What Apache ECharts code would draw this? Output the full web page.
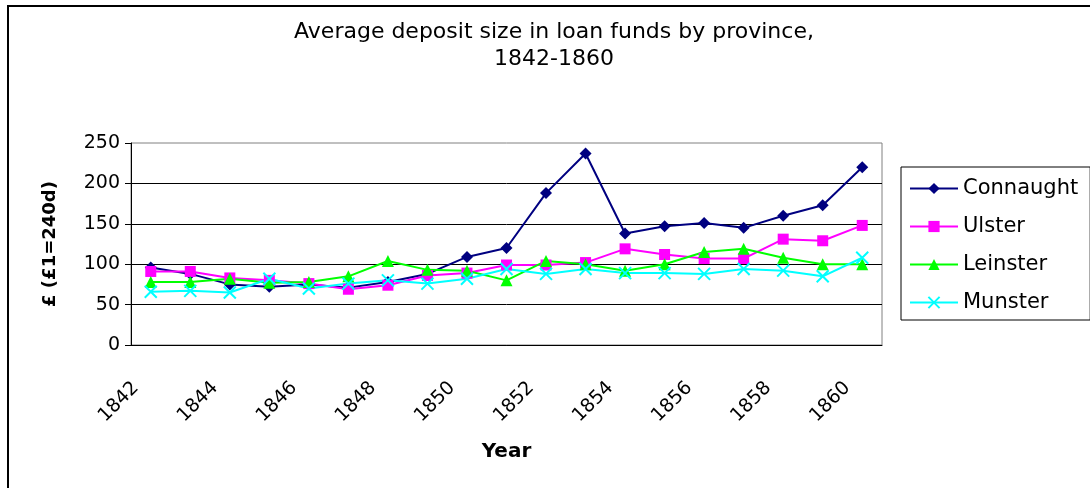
<!DOCTYPE html>
<html>
<head>
<meta charset="utf-8">
<title>Average deposit size in loan funds by province</title>
<script src="https://cdn.jsdelivr.net/npm/echarts@6/dist/echarts.min.js"></script>
<style>
    html, body { margin: 0; padding: 0; background: #fff; }
    #chart-container { width: 1090px; height: 488px; }
</style>
</head>
<body>
<div id="chart-container"></div>
<script>
// categories (years)
var years = ['1842', '1843', '1844', '1845', '1846', '1847', '1848', '1849', '1850', '1851',
             '1852', '1853', '1854', '1855', '1856', '1857', '1858', '1859', '1860'];

// average deposit (£) per province
var connaught = [96, 88, 75, 72, 75, 71, 78, 88, 109, 120, 188, 237, 138, 147, 151, 145, 160, 173, 220];
var ulster    = [91, 91, 83, 80, 76, 69, 74, 86, 89, 99, 99, 102, 119, 112, 107, 107, 131, 129, 148];
var leinster  = [78, 78, 82, 77, 78, 85, 104, 93, 92, 80, 104, 100, 92, 100, 115, 119, 108, 100, 100];
var munster   = [66, 67, 65, 82, 70, 76, 80, 76, 82, 94, 88, 94, 89, 89, 88, 94, 92, 85, 108];

var seriesNames = ['Connaught', 'Ulster', 'Leinster', 'Munster'];
var yTicks = [0, 50, 100, 150, 200, 250];

var FONT = 'DejaVu Sans';

function makeSeries(name, values, color, symbol, size) {
    return {
        name: name,
        type: 'line',
        data: values,
        symbol: symbol,
        symbolSize: size,
        showAllSymbol: true,
        animation: false,
        lineStyle: { color: color, width: 2 },
        itemStyle: { color: color }
    };
}

var myChart = echarts.init(document.getElementById('chart-container'));

var series = [
    makeSeries(seriesNames[0], connaught, '#000080', 'diamond', 12),
    makeSeries(seriesNames[1], ulster, '#ff00ff', 'rect', 11),
    makeSeries(seriesNames[2], leinster, '#00ff00', 'triangle', 12),
    makeSeries(seriesNames[3], munster, '#00ffff', 'path://M0,0L10,10M10,0L0,10', 12)
];
// the cross marker is only strokes
series[3].itemStyle = { color: '#00ffff', borderColor: '#00ffff', borderWidth: 2 };

var option = {
    backgroundColor: '#fff',
    animation: false,
    title: {
        text: 'Average deposit size in loan funds by province,\n1842-1860',
        left: 554,
        top: 19,
        padding: 0,
        textAlign: 'center',
        textStyle: {
            fontFamily: FONT,
            fontSize: 22,
            fontWeight: 'normal',
            color: '#000',
            lineHeight: 27
        }
    },
    graphic: [{
        type: 'rect',
        silent: true,
        shape: { x: 8, y: 6, width: 1200, height: 600 },
        style: { fill: null, stroke: '#000', lineWidth: 2 }
    }],
    legend: {
        data: seriesNames,
        orient: 'vertical',
        left: 901,
        top: 167,
        padding: [11, 12, 7, 8],
        itemWidth: 48,
        itemHeight: 14,
        itemGap: 17,
        borderColor: '#000',
        borderWidth: 1,
        textStyle: { fontFamily: FONT, fontSize: 21, color: '#000', lineHeight: 20 }
    },
    grid: {
        left: 131,
        right: 208,
        top: 143,
        bottom: 143,
        show: true,
        borderColor: '#808080',
        borderWidth: 1
    },
    xAxis: {
        type: 'category',
        data: years,
        boundaryGap: true,
        name: 'Year',
        nameLocation: 'middle',
        nameGap: 97,
        nameTextStyle: { fontFamily: FONT, fontSize: 20, fontWeight: 'bold', color: '#000' },
        axisLine: { lineStyle: { color: '#000', width: 1 } },
        axisTick: { interval: 0, length: 6, lineStyle: { color: '#000' } },
        axisLabel: {
            interval: 1,
            rotate: 45,
            margin: 25,
            padding: [0, 21, 0, 0],
            fontFamily: FONT,
            fontSize: 19,
            color: '#000'
        },
        splitLine: { show: false }
    },
    yAxis: {
        type: 'value',
        min: yTicks[0],
        max: yTicks[yTicks.length - 1],
        interval: yTicks[1] - yTicks[0],
        name: '£ (£1=240d)',
        nameLocation: 'middle',
        nameGap: 72,
        nameTextStyle: { fontFamily: FONT, fontSize: 18, fontWeight: 'bold', color: '#000' },
        axisLine: { show: true, lineStyle: { color: '#000', width: 1 } },
        axisTick: { show: true, length: 6, lineStyle: { color: '#000' } },
        axisLabel: { margin: 11, fontFamily: FONT, fontSize: 19, color: '#000' },
        splitLine: { show: true, showMaxLine: false, lineStyle: { color: '#000', width: 1 } }
    },
    series: series
};

myChart.setOption(option);
</script>
</body>
</html>
